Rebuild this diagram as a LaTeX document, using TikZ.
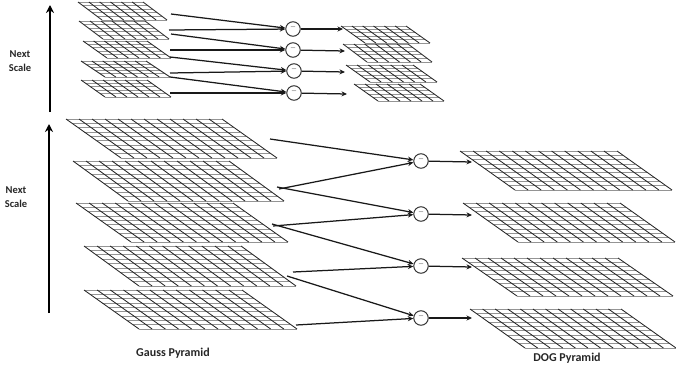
\documentclass[tikz,border=0pt]{standalone}
\usepackage{fontspec}
\setmainfont{Carlito}
\usetikzlibrary{arrows.meta}
\newcommand{\pgrid}[7]{% TLx TLy BRx BRy shift cols rows
  \pgfmathsetmacro{\gw}{#3-#1-#5}
  \pgfmathsetmacro{\gh}{#4-#2}
  \foreach \r in {0,...,#7}{
    \pgfmathsetmacro{\ry}{#2+\gh*\r/#7}
    \pgfmathsetmacro{\rx}{#1+#5*\r/#7}
    \draw[gridrow] (\rx,\ry) -- ++(\gw,0);
  }
  \foreach \c in {0,...,#6}{
    \pgfmathsetmacro{\cx}{#1+\gw*\c/#6}
    \draw[gridcol] (\cx,#2) -- ++(#5,\gh);
  }
}
\tikzset{
  x=1pt,y=-1pt,
  gridrow/.style={draw=black!42,line width=1pt},
  gridcol/.style={draw=black!85,line width=0.85pt},
  opnode/.style={circle,draw=black!80,fill=white,line width=1pt,minimum size=14.5pt,inner sep=0pt,text=black!40,font=\fontsize{12}{12}\selectfont},
  conn/.style={draw=black!90,line width=1.25pt},
  arr/.style={conn,-{Stealth[length=5.5pt,width=5pt]}},
  bigarr/.style={draw=black,line width=1.5pt,-{Stealth[length=8pt,width=8pt]}},
  lab/.style={font=\fontsize{10.5}{13.5}\selectfont\bfseries,text=black!85,align=center,inner sep=0pt},
  captext/.style={font=\fontsize{12}{14}\selectfont\bfseries,text=black!85,inner sep=0pt},
}
\begin{document}
\begin{tikzpicture}
\useasboundingbox (0,0) rectangle (676,372);
% small Gauss
\pgrid{78}{2}{167}{20}{24}{6}{5}
\pgrid{79}{21}{169}{39}{24}{6}{5}
\pgrid{83}{41}{171}{58}{24}{6}{5}
\pgrid{81}{61}{170}{77}{24}{6}{5}
\pgrid{81}{80}{171}{97}{24}{6}{5}
% small DoG
\pgrid{341}{26}{430}{43}{24}{6}{5}
\pgrid{343}{44}{432}{62}{24}{6}{5}
\pgrid{346}{65}{437}{82}{24}{6}{5}
\pgrid{354}{84}{444}{101}{24}{6}{5}
% large Gauss
\pgrid{66}{119}{277}{158}{55}{12}{9}
\pgrid{73}{161}{284}{201}{55}{12}{9}
\pgrid{76}{203}{288}{242}{55}{12}{9}
\pgrid{84}{246}{296}{286}{55}{12}{9}
\pgrid{84}{290}{297}{329}{55}{12}{9}
% large DoG
\pgrid{460}{151}{672}{190}{55}{12}{9}
\pgrid{463}{203}{675}{242}{55}{12}{9}
\pgrid{462}{258}{673}{296}{55}{12}{9}
\pgrid{470}{309}{676}{348}{55}{12}{9}
% operator nodes
\node[opnode] (s1) at (293,29) {–};
\node[opnode] (s2) at (293,50) {–};
\node[opnode] (s3) at (294,71) {–};
\node[opnode] (s4) at (294,93) {–};
\node[opnode] (l1) at (421,161) {–};
\node[opnode] (l2) at (421,214) {–};
\node[opnode] (l3) at (421,266) {–};
\node[opnode] (l4) at (421,318) {–};
% connector ends
\coordinate (sa1) at (171,14);  \coordinate (sa2) at (169,30);
\coordinate (sb1) at (171,34);  \coordinate (sb2) at (170,50);
\coordinate (sc1) at (170,57);  \coordinate (sc2) at (170,73);
\coordinate (sd1) at (170,77);  \coordinate (sd2) at (170,93);
\coordinate (so1) at (343,29);  \coordinate (so2) at (345,51);
\coordinate (so3) at (345,72);  \coordinate (so4) at (347,94);
\coordinate (la1) at (270,139); \coordinate (la2) at (279,189);
\coordinate (lb1) at (277,187); \coordinate (lb2) at (273,226);
\coordinate (lc1) at (272,224); \coordinate (lc2) at (293,272);
\coordinate (ld1) at (287,276); \coordinate (ld2) at (296,325);
\coordinate (lo1) at (472,162); \coordinate (lo2) at (472,215);
\coordinate (lo3) at (472,267); \coordinate (lo4) at (472,318);
\coordinate (u1) at (50,112);   \coordinate (u2) at (50,5);
\coordinate (v1) at (49,313);   \coordinate (v2) at (49,124);
% connectors
\foreach \p/\q in {sa1/s1,sa2/s1,sb1/s2,sb2/s2,sc1/s3,sc2/s3,sd1/s4,sd2/s4,
  s1/so1,s2/so2,s3/so3,s4/so4,
  la1/l1,la2/l1,lb1/l2,lb2/l2,lc1/l3,lc2/l3,ld1/l4,ld2/l4,
  l1/lo1,l2/lo2,l3/lo3,l4/lo4}
  \draw[arr] (\p) -- (\q);
\draw[bigarr] (u1) -- (u2);
\draw[bigarr] (v1) -- (v2);
% labels
\node[lab] (t1) at (20,61) {Next\\Scale};
\node[lab] (t2) at (16,197) {Next\\Scale};
\node[captext] (t3) at (173,353) {Gauss Pyramid};
\node[captext] (t4) at (567,358) {DOG Pyramid};
\end{tikzpicture}
\end{document}
